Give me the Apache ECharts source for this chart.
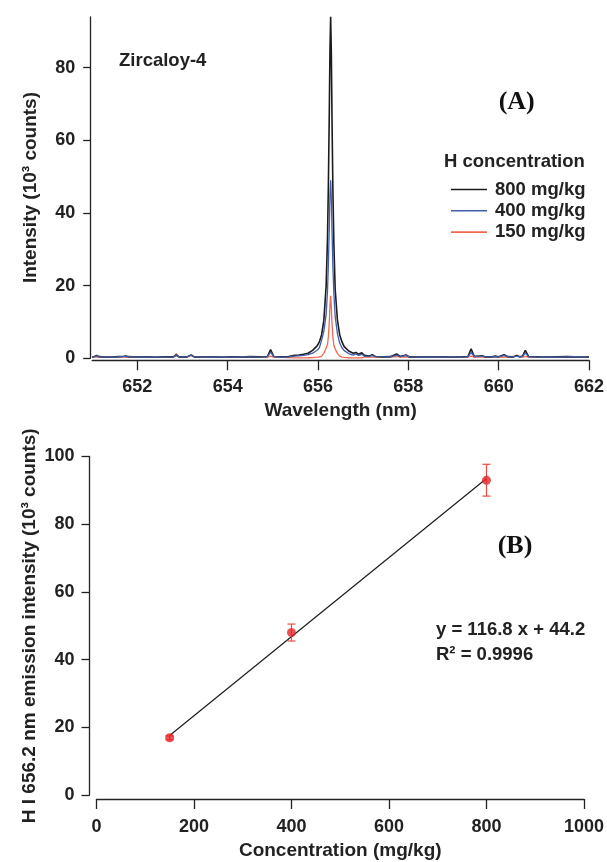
<!DOCTYPE html>
<html>
<head>
<meta charset="utf-8">
<script src="https://cdn.jsdelivr.net/npm/echarts@6/dist/echarts.min.js"></script>
<style>
  html, body { margin: 0; padding: 0; background: #ffffff; }
  #chart { width: 607px; height: 862px; }
</style>
</head>
<body>
<div id="chart"></div>
<script>
// ---- Panel A: emission spectra around the H-alpha line ----
const wavelength = [
  651.00, 651.05, 651.10, 651.15, 651.30, 651.50, 651.70, 651.75, 651.80, 652.00,
  652.20, 652.40, 652.60, 652.80, 652.86, 652.92, 653.10, 653.19, 653.26, 653.50,
  653.70, 653.90, 654.10, 654.30, 654.50, 654.70, 654.88, 654.95, 655.02, 655.20,
  655.35, 655.48, 655.58, 655.68, 655.78, 655.88, 655.98, 656.03, 656.08, 656.13,
  656.18, 656.21, 656.23, 656.25, 656.265, 656.28, 656.295, 656.31, 656.33, 656.35,
  656.38, 656.43, 656.48, 656.53, 656.58, 656.68, 656.78, 656.84, 656.90, 656.97,
  657.03, 657.13, 657.20, 657.27, 657.45, 657.60, 657.74, 657.82, 657.95, 658.02,
  658.20, 658.40, 658.60, 658.80, 659.00, 659.20, 659.32, 659.39, 659.46, 659.63,
  659.70, 659.85, 659.92, 660.00, 660.12, 660.20, 660.32, 660.40, 660.47, 660.53,
  660.59, 660.66, 660.90, 661.10, 661.30, 661.50, 661.70, 661.90, 662.00
];
const intensity800 = [
  0.40, 0.50, 0.80, 0.45, 0.35, 0.40, 0.55, 0.60, 0.45, 0.35,
  0.40, 0.30, 0.40, 0.40, 0.90, 0.40, 0.40, 0.95, 0.40, 0.35,
  0.40, 0.30, 0.40, 0.35, 0.45, 0.40, 0.50, 2.40, 0.50, 0.40,
  0.50, 0.80, 0.90, 1.10, 1.40, 2.20, 3.40, 4.50, 6.50, 10.5,
  20.0, 33.0, 48.0, 68.0, 85.0, 94.0, 84.0, 66.0, 46.0, 32.0,
  19.0, 10.5, 6.50, 4.50, 3.20, 2.00, 1.40, 1.60, 1.10, 1.50,
  0.80, 0.60, 1.00, 0.50, 0.40, 0.45, 1.20, 0.50, 0.90, 0.40,
  0.35, 0.40, 0.35, 0.40, 0.35, 0.40, 0.50, 2.60, 0.50, 0.70,
  0.40, 0.40, 0.60, 0.40, 1.00, 0.45, 0.40, 0.70, 0.45, 0.60,
  2.20, 0.50, 0.40, 0.35, 0.40, 0.45, 0.40, 0.35, 0.40
];
const intensity400 = [
  0.40, 0.45, 0.70, 0.40, 0.40, 0.35, 0.50, 0.55, 0.45, 0.35,
  0.40, 0.35, 0.35, 0.40, 0.80, 0.40, 0.40, 0.85, 0.40, 0.35,
  0.40, 0.35, 0.35, 0.40, 0.40, 0.35, 0.45, 1.70, 0.45, 0.35,
  0.40, 0.60, 0.70, 0.80, 1.00, 1.40, 2.20, 2.90, 5.00, 7.50,
  12.0, 18.5, 26.0, 36.0, 45.0, 49.0, 44.0, 35.0, 25.0, 18.0,
  11.5, 6.80, 4.20, 2.90, 2.10, 1.30, 0.90, 1.20, 0.80, 1.10,
  0.60, 0.50, 0.80, 0.45, 0.40, 0.40, 0.90, 0.45, 0.80, 0.40,
  0.35, 0.40, 0.35, 0.40, 0.40, 0.35, 0.45, 1.60, 0.45, 0.60,
  0.40, 0.40, 0.50, 0.40, 0.80, 0.40, 0.40, 0.60, 0.40, 0.55,
  1.50, 0.45, 0.35, 0.40, 0.35, 0.40, 0.45, 0.40, 0.35
];
const intensity150 = [
  0.30, 0.30, 0.40, 0.30, 0.30, 0.30, 0.35, 0.35, 0.30, 0.30,
  0.30, 0.25, 0.30, 0.35, 1.30, 0.40, 0.30, 0.80, 0.30, 0.30,
  0.30, 0.30, 0.30, 0.30, 0.30, 0.30, 0.30, 0.60, 0.30, 0.25,
  0.20, 0.12, 0.12, 0.12, 0.15, 0.20, 0.30, 0.40, 0.60, 1.40,
  2.80, 3.80, 6.00, 10.0, 14.5, 17.2, 14.0, 9.50, 5.80, 3.60,
  2.60, 1.30, 0.60, 0.35, 0.25, 0.15, 0.12, 0.12, 0.12, 0.15,
  0.30, 0.30, 0.40, 0.30, 0.30, 0.30, 0.50, 0.30, 0.40, 0.30,
  0.30, 0.30, 0.30, 0.30, 0.30, 0.30, 0.30, 0.60, 0.30, 0.35,
  0.30, 0.30, 0.30, 0.30, 0.40, 0.30, 0.30, 0.90, 0.35, 0.35,
  0.50, 0.30, 0.30, 0.30, 0.30, 0.30, 0.30, 0.30, 0.30
];
const spectrumNames = ['800 mg/kg', '400 mg/kg', '150 mg/kg'];
const wavelengthTicks = [652, 654, 656, 658, 660, 662];
const intensityTicks = [0, 20, 40, 60, 80];

// ---- Panel B: calibration curve ----
const concentration = [150, 400, 800];
const peakIntensity = [16.9, 48.0, 93.0];
const peakError = [0.6, 2.5, 4.7];
const fitSlope = 116.8;      // counts per mg/kg
const fitIntercept = 44.2;   // counts
const fitR2 = '0.9996';

const FONT = '"Liberation Sans", Arial, sans-serif';
const SERIF = '"Liberation Serif", "Times New Roman", serif';
const INK = '#222222';

const pairs = (xs, ys) => xs.map((x, i) => [x, ys[i]]);
const fitEnds = [concentration[0], concentration[concentration.length - 1]];
const fitLine = fitEnds.map(c => [c, (fitSlope * c + fitIntercept) / 1000]);

const tickLabel = { color: INK, fontFamily: FONT, fontWeight: 'bold', fontSize: 18, formatter: v => String(v) };
const axisNameStyle = { color: INK, fontFamily: FONT, fontWeight: 'bold', fontSize: 19 };
const axisLine = { show: true, onZero: false, lineStyle: { color: INK, width: 1.3 } };

const chart = echarts.init(document.getElementById('chart'), null, { renderer: 'canvas' });

chart.setOption({
  backgroundColor: '#ffffff',
  animation: false,
  grid: [
    { left: 92.2, right: 18, top: 16.8, bottom: 503.7 },
    { left: 96.5, right: 22, top: 456.5, bottom: 67 }
  ],
  xAxis: [
    {
      gridIndex: 0, type: 'value', min: 651, max: 662, offset: 2,
      name: 'Wavelength (nm)', nameLocation: 'middle', nameGap: 41, nameMoveOverlap: false,
      nameTextStyle: axisNameStyle,
      axisLine: axisLine,
      axisTick: { show: true, length: 10, customValues: wavelengthTicks, lineStyle: { color: INK, width: 1.3 } },
      axisLabel: Object.assign({ margin: 18, customValues: wavelengthTicks }, tickLabel),
      splitLine: { show: false }
    },
    {
      gridIndex: 1, type: 'value', min: 0, max: 1000, interval: 200, offset: 4,
      name: 'Concentration (mg/kg)', nameLocation: 'middle', nameGap: 42, nameMoveOverlap: false,
      nameTextStyle: axisNameStyle,
      axisLine: axisLine,
      axisTick: { show: true, length: 10, lineStyle: { color: INK, width: 1.3 } },
      axisLabel: Object.assign({ margin: 19 }, tickLabel),
      splitLine: { show: false }
    }
  ],
  yAxis: [
    {
      gridIndex: 0, type: 'value', min: 0, max: 94, offset: 2,
      name: 'Intensity (10³ counts)', nameLocation: 'middle', nameGap: 50, nameMoveOverlap: false,
      nameTextStyle: axisNameStyle,
      axisLine: axisLine,
      axisTick: { show: true, length: 7, customValues: intensityTicks, lineStyle: { color: INK, width: 1.3 } },
      axisLabel: Object.assign({ margin: 15, customValues: intensityTicks }, tickLabel),
      splitLine: { show: false }
    },
    {
      gridIndex: 1, type: 'value', min: 0, max: 100, interval: 20, offset: 7,
      name: 'H I 656.2 nm emission intensity (10³ counts)', nameLocation: 'middle', nameGap: 50,
      nameMoveOverlap: false,
      nameTextStyle: axisNameStyle,
      axisLine: axisLine,
      axisTick: { show: true, length: 8, lineStyle: { color: INK, width: 1.3 } },
      axisLabel: Object.assign({ margin: 15 }, tickLabel),
      splitLine: { show: false }
    }
  ],
  legend: {
    data: spectrumNames,
    orient: 'vertical', left: 446, top: 175,
    icon: 'rect', itemWidth: 36, itemHeight: 1.6, itemGap: 2.3,
    textStyle: { color: INK, fontFamily: FONT, fontWeight: 'bold', fontSize: 18.5, lineHeight: 18, padding: [0, 0, 0, 3] },
    selectedMode: false
  },
  series: [
    {
      name: spectrumNames[2], type: 'line', xAxisIndex: 0, yAxisIndex: 0,
      data: pairs(wavelength, intensity150), symbol: 'none', color: '#f2674f',
      lineStyle: { width: 1.3, color: '#f2674f' }, z: 2
    },
    {
      name: spectrumNames[0], type: 'line', xAxisIndex: 0, yAxisIndex: 0,
      data: pairs(wavelength, intensity800), symbol: 'none', color: '#1c1c1c',
      lineStyle: { width: 1.6, color: '#1c1c1c' }, z: 3
    },
    {
      name: spectrumNames[1], type: 'line', xAxisIndex: 0, yAxisIndex: 0,
      data: pairs(wavelength, intensity400), symbol: 'none', color: '#3e5daa',
      lineStyle: { width: 1.3, color: '#3e5daa' }, z: 4
    },
    {
      name: 'fit', type: 'line', xAxisIndex: 1, yAxisIndex: 1,
      data: fitLine, symbol: 'none', lineStyle: { width: 1.2, color: '#1c1c1c' }, z: 3
    },
    {
      name: 'error', type: 'custom', xAxisIndex: 1, yAxisIndex: 1, z: 4,
      data: concentration.map((c, i) => [c, peakIntensity[i] - peakError[i], peakIntensity[i] + peakError[i]]),
      renderItem: function (params, api) {
        const lo = api.coord([api.value(0), api.value(1)]);
        const hi = api.coord([api.value(0), api.value(2)]);
        const half = 4;
        const style = { stroke: '#ef4a45', lineWidth: 1.2 };
        return {
          type: 'group',
          children: [
            { type: 'line', shape: { x1: lo[0], y1: lo[1], x2: hi[0], y2: hi[1] }, style: style },
            { type: 'line', shape: { x1: lo[0] - half, y1: lo[1], x2: lo[0] + half, y2: lo[1] }, style: style },
            { type: 'line', shape: { x1: hi[0] - half, y1: hi[1], x2: hi[0] + half, y2: hi[1] }, style: style }
          ]
        };
      }
    },
    {
      name: 'measured', type: 'scatter', xAxisIndex: 1, yAxisIndex: 1, z: 5,
      data: pairs(concentration, peakIntensity), symbol: 'circle', symbolSize: 9,
      itemStyle: { color: '#e3262b' }
    }
  ],
  graphic: [
    { type: 'text', x: 119, y: 61, style: { text: 'Zircaloy-4', font: 'bold 18.5px ' + FONT, fill: INK, align: 'left', verticalAlign: 'middle' } },
    { type: 'text', x: 516.7, y: 102, style: { text: '(A)', font: 'bold 26px ' + SERIF, fill: '#111', align: 'center', verticalAlign: 'middle' } },
    { type: 'text', x: 444, y: 162, style: { text: 'H concentration', font: 'bold 18.5px ' + FONT, fill: INK, align: 'left', verticalAlign: 'middle' } },
    { type: 'text', x: 515, y: 546, style: { text: '(B)', font: 'bold 26px ' + SERIF, fill: '#111', align: 'center', verticalAlign: 'middle' } },
    { type: 'text', x: 436, y: 629.5, style: { text: 'y = ' + fitSlope + ' x + ' + fitIntercept, font: 'bold 18.5px ' + FONT, fill: INK, align: 'left', verticalAlign: 'middle' } },
    { type: 'text', x: 436, y: 655, style: { text: 'R² = ' + fitR2, font: 'bold 18.5px ' + FONT, fill: INK, align: 'left', verticalAlign: 'middle' } }
  ]
});
</script>
</body>
</html>
